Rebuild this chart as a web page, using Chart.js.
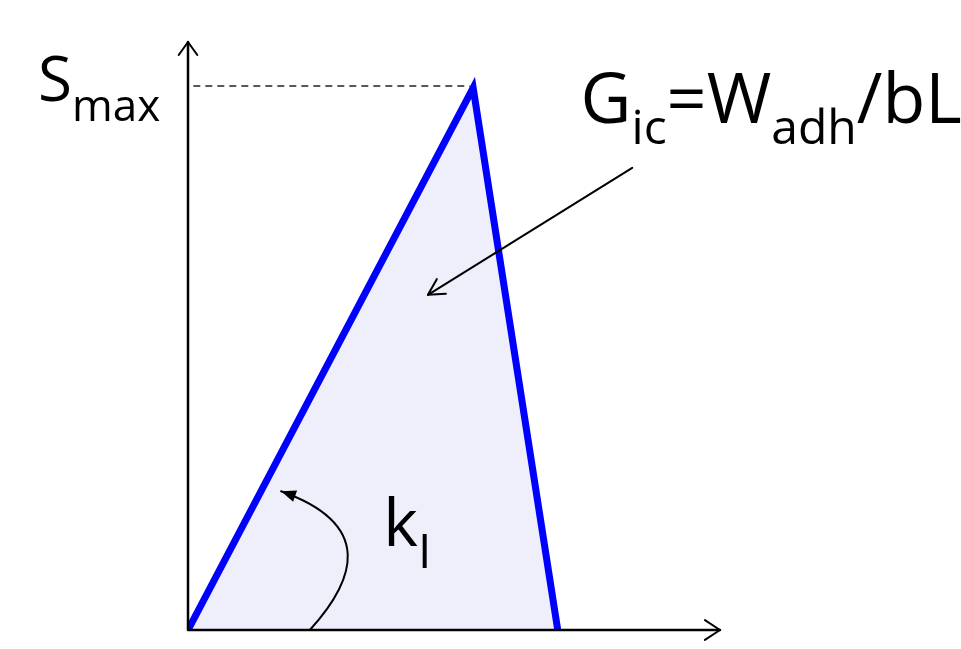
<!DOCTYPE html>
<html>
<head>
<meta charset="utf-8">
<script src="https://cdn.jsdelivr.net/npm/chart.js@4"></script>
<style>
  html, body { margin: 0; padding: 0; background: #fff; }
  #wrap { width: 961px; height: 649px; }
</style>
</head>
<body>
<div id="wrap"><canvas id="chart" width="961" height="649"></canvas></div>
<script>
// triangle: origin -> peak (Smax) -> foot
var triX = [0, 53.6, 69.5];
var triY = [0, 92.2, 0];

// arrows, in data units
var arrowFrom = [83.5, 78.6];
var arrowTo = [45.1, 57.0];
var curve = [[22.9, 0], [31.4, 8.5], [35.2, 17.9], [17.5, 23.6]];

var font = '"Open Sans", "Noto Sans", sans-serif';

var triangle = triX.map(function (x, i) { return { x: x, y: triY[i] }; });

function chevron(ctx, tx, ty, ang, len, spread) {
  ctx.beginPath();
  ctx.moveTo(tx + len * Math.cos(ang + spread), ty + len * Math.sin(ang + spread));
  ctx.lineTo(tx, ty);
  ctx.lineTo(tx + len * Math.cos(ang - spread), ty + len * Math.sin(ang - spread));
  ctx.stroke();
}

// text with subscripts: parts = [[text, isSub], ...]
function label(ctx, x, y, parts, big, small, drop) {
  ctx.fillStyle = '#000';
  ctx.textBaseline = 'alphabetic';
  ctx.textAlign = 'left';
  parts.forEach(function (p) {
    ctx.font = (p[1] ? small : big) + 'px ' + font;
    ctx.fillText(p[0], x, p[1] ? y + drop : y);
    x += ctx.measureText(p[0]).width;
  });
}

var extras = {
  id: 'extras',
  afterDatasetsDraw: function (chart) {
    var ctx = chart.ctx, xs = chart.scales.x, ys = chart.scales.y;
    var a = chart.chartArea;
    function px(v) { return xs.getPixelForValue(v); }
    function py(v) { return ys.getPixelForValue(v); }
    ctx.save();
    ctx.strokeStyle = '#000';
    ctx.lineCap = 'round';
    ctx.lineJoin = 'round';

    // axes
    ctx.lineWidth = 2.5;
    ctx.beginPath();
    ctx.moveTo(a.left, a.bottom);
    ctx.lineTo(a.left, a.top);
    ctx.moveTo(a.left, a.bottom);
    ctx.lineTo(a.right, a.bottom);
    ctx.stroke();
    ctx.lineWidth = 2;
    chevron(ctx, a.left, a.top, Math.PI / 2, 16, 0.62);
    chevron(ctx, a.right, a.bottom, Math.PI, 18, 0.58);

    // straight arrow to area
    var x1 = px(arrowFrom[0]), y1 = py(arrowFrom[1]);
    var x2 = px(arrowTo[0]), y2 = py(arrowTo[1]);
    ctx.lineWidth = 2;
    ctx.beginPath();
    ctx.moveTo(x1, y1);
    ctx.lineTo(x2, y2);
    ctx.stroke();
    chevron(ctx, x2, y2, Math.atan2(y1 - y2, x1 - x2), 18, 0.5);

    // curved arrow to slope
    var c = curve.map(function (p) { return [px(p[0]), py(p[1])]; });
    ctx.beginPath();
    ctx.moveTo(c[0][0], c[0][1]);
    ctx.bezierCurveTo(c[1][0], c[1][1], c[2][0], c[2][1], c[3][0], c[3][1]);
    ctx.stroke();
    var ang = Math.atan2(c[2][1] - c[3][1], c[2][0] - c[3][0]);
    ctx.fillStyle = '#000';
    ctx.beginPath();
    ctx.moveTo(c[3][0], c[3][1]);
    ctx.lineTo(c[3][0] + 16 * Math.cos(ang + 0.38), c[3][1] + 16 * Math.sin(ang + 0.38));
    ctx.lineTo(c[3][0] + 16 * Math.cos(ang - 0.38), c[3][1] + 16 * Math.sin(ang - 0.38));
    ctx.closePath();
    ctx.fill();

    // labels
    label(ctx, px(-28.2), py(90.0), [['S', 0], ['max', 1]], 62, 44, 20);
    label(ctx, px(73.8), py(86.2), [['G', 0], ['ic', 1], ['=', 0], ['W', 0], ['adh', 1], ['/bL', 0]], 70, 48, 21);
    label(ctx, px(36.7), py(14.3), [['k', 0], ['I', 1]], 66, 48, 22);
    ctx.restore();
  }
};

new Chart('chart', {
  type: 'scatter',
  data: {
    datasets: [
      {
        data: triangle,
        showLine: true,
        borderColor: '#0000ff',
        borderWidth: 7,
        backgroundColor: '#efeffc',
        fill: 'origin',
        pointRadius: 0,
        tension: 0,
        borderJoinStyle: 'miter'
      },
      {
        data: [{ x: triX[1] - 0.6, y: triY[1] }, { x: triX[1] - 0.6, y: 0 }],
        showLine: true,
        borderColor: 'rgba(205,205,235,0.6)',
        borderWidth: 1,
        pointRadius: 0
      },
      {
        data: [{ x: 1, y: triY[1] + 0.3 }, { x: triX[1] - 0.6, y: triY[1] + 0.3 }],
        showLine: true,
        borderColor: '#222',
        borderWidth: 1.5,
        borderDash: [7, 5],
        pointRadius: 0
      }
    ]
  },
  options: {
    responsive: false,
    animation: false,
    layout: { padding: { left: 188, right: 241, top: 42, bottom: 19 } },
    scales: {
      x: { type: 'linear', min: 0, max: 100, display: false },
      y: { type: 'linear', min: 0, max: 100, display: false }
    },
    plugins: { legend: { display: false }, tooltip: { enabled: false } }
  },
  plugins: [extras]
});
</script>
</body>
</html>
